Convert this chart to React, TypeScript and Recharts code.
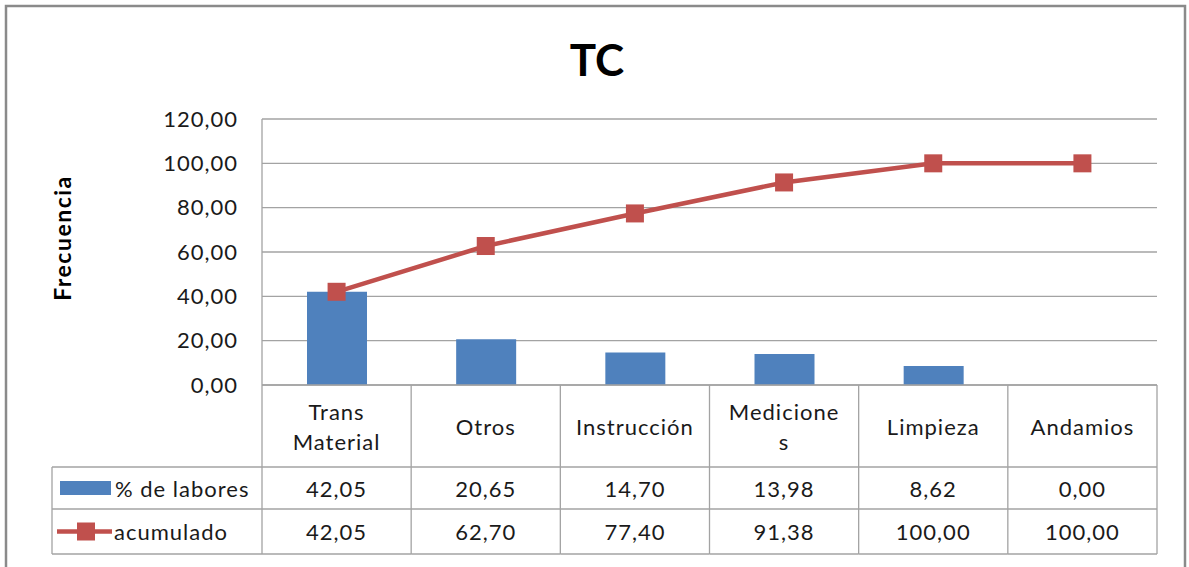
import { Bar, CartesianGrid, ComposedChart, Line, XAxis, YAxis } from "recharts";

const categories = ["Trans Material", "Otros", "Instrucción", "Mediciones", "Limpieza", "Andamios"];
// how each category wraps inside its table cell
const categoryLabels = [["Trans", "Material"], ["Otros"], ["Instrucción"], ["Medicione", "s"], ["Limpieza"], ["Andamios"]];
const labores = [42.05, 20.65, 14.7, 13.98, 8.62, 0.0];
const acumulado = [42.05, 62.7, 77.4, 91.38, 100.0, 100.0];
const yTicks = [0, 20, 40, 60, 80, 100, 120];

const data = categories.map((name, i) => ({ name, labores: labores[i], acumulado: acumulado[i] }));

const W = 1189;
const H = 567;
const PLOT_LEFT = 262;
const PLOT_RIGHT = 1157;
const COL = (PLOT_RIGHT - PLOT_LEFT) / categories.length;
const HEADER_W = 210;
const BLUE = "#4F81BD";
const RED = "#C0504D";
const GRID = "#a3a3a3";
const TEXT = "#1a1a1a";
const FONT = "Lato, 'Open Sans', sans-serif";

const fmt = (v: number) => v.toFixed(2).replace(".", ",");

// rows of the data table under the axis, relative to the axis line
const ROW_CAT = 82;
const ROW_1 = 124;
const ROW_2 = 169;

const txt = { fontFamily: FONT, fontSize: 22, fill: TEXT, letterSpacing: 1 } as const;

function TableTick(props: any) {
  const { x, y, index } = props;
  const left = x - COL / 2;
  const right = x + COL / 2;
  const lines = categoryLabels[index] ?? [String(props.payload?.value)];
  const catMid = y + ROW_CAT / 2;
  const lh = 30;
  const headLeft = left - HEADER_W;
  const mid1 = y + (ROW_CAT + ROW_1) / 2;
  const mid2 = y + (ROW_1 + ROW_2) / 2;
  return (
    <g>
      {index === 0 && <line x1={left} y1={y} x2={left} y2={y + ROW_2} stroke={GRID} strokeWidth={1.3} />}
      <line x1={right} y1={y} x2={right} y2={y + ROW_2} stroke={GRID} strokeWidth={1.3} />
      {[ROW_CAT, ROW_1, ROW_2].map((r) => (
        <line key={r} x1={index === 0 ? headLeft : left} y1={y + r} x2={right} y2={y + r} stroke={GRID} strokeWidth={1.3} />
      ))}
      {lines.map((l, k) => (
        <text key={k} x={x} y={catMid + (k - (lines.length - 1) / 2) * lh} textAnchor="middle" dominantBaseline="central" {...txt}>
          {l}
        </text>
      ))}
      <text x={x} y={mid1} textAnchor="middle" dominantBaseline="central" {...txt}>
        {fmt(labores[index])}
      </text>
      <text x={x} y={mid2} textAnchor="middle" dominantBaseline="central" {...txt}>
        {fmt(acumulado[index])}
      </text>
      {index === 0 && (
        <g>
          <line x1={headLeft} y1={y + ROW_CAT} x2={headLeft} y2={y + ROW_2} stroke={GRID} strokeWidth={1.3} />
          <rect x={headLeft + 8} y={mid1 - 7} width={51} height={14} fill={BLUE} />
          <text x={headLeft + 63} y={mid1} dominantBaseline="central" {...txt}>
            % de labores
          </text>
          <line x1={headLeft + 5} y1={mid2} x2={headLeft + 60} y2={mid2} stroke={RED} strokeWidth={4.5} />
          <rect x={headLeft + 25} y={mid2 - 9} width={18} height={18} fill={RED} />
          <text x={headLeft + 62} y={mid2} dominantBaseline="central" {...txt}>
            acumulado
          </text>
        </g>
      )}
    </g>
  );
}

function SquareDot(props: any) {
  const { cx, cy } = props;
  if (cx == null || cy == null) return null;
  return <rect x={cx - 9} y={cy - 9} width={18} height={18} fill={RED} />;
}

export default function App() {
  return (
    <div style={{ position: "absolute", left: 0, top: 0, width: W, height: H, overflow: "hidden", background: "#fff" }}>
      <ComposedChart
        width={W}
        height={H}
        data={data}
        margin={{ top: 119, right: W - PLOT_RIGHT, bottom: 12, left: PLOT_LEFT - 100 }}
      >
        <CartesianGrid vertical={false} stroke={GRID} strokeWidth={1.3} />
        <YAxis
          width={100}
          domain={[0, 120]}
          ticks={yTicks}
          tickFormatter={fmt}
          axisLine={{ stroke: GRID, strokeWidth: 1.3 }}
          tickLine={false}
          tickSize={0}
          tickMargin={24}
          tick={txt}
        />
        <XAxis
          dataKey="name"
          height={170}
          interval={0}
          axisLine={{ stroke: GRID, strokeWidth: 1.3 }}
          tickLine={false}
          tickSize={0}
          tickMargin={0}
          tick={(p: any) => <TableTick {...p} />}
        />
        <Bar dataKey="labores" fill={BLUE} barSize={60} isAnimationActive={false} />
        <Line
          dataKey="acumulado"
          type="linear"
          stroke={RED}
          strokeWidth={4.5}
          dot={<SquareDot />}
          activeDot={false}
          isAnimationActive={false}
        />
      </ComposedChart>
      <svg width={W} height={H} style={{ position: "absolute", left: 0, top: 0, pointerEvents: "none" }}>
        <rect x={6} y={6} width={1179} height={620} fill="none" stroke="#8a8a8a" strokeWidth={2.5} />
        <text x={597} y={76} textAnchor="middle" fontFamily={FONT} fontWeight={700} fontSize={44} fill="#000">
          TC
        </text>
        <text
          x={0}
          y={0}
          transform="translate(62 238) rotate(-90)"
          textAnchor="middle"
          dominantBaseline="central"
          fontFamily={FONT}
          fontWeight={700}
          fontSize={23}
          letterSpacing={1.5}
          fill="#000"
        >
          Frecuencia
        </text>
      </svg>
    </div>
  );
}
